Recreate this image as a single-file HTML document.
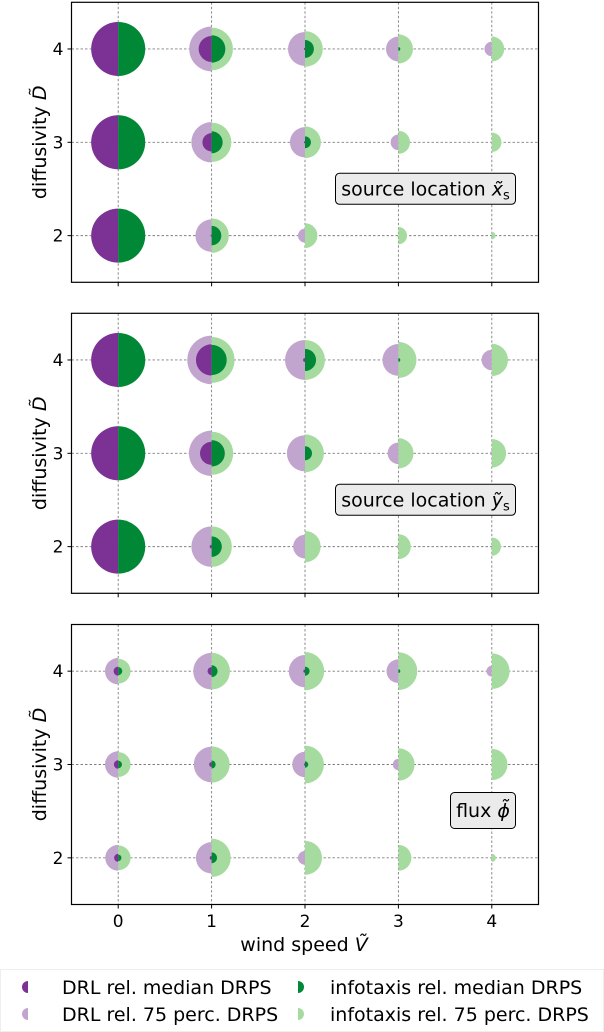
<!DOCTYPE html>
<html><head><meta charset="utf-8"><style>body{margin:0;background:#fff}svg{display:block;font-family:"DejaVu Sans","Liberation Sans",sans-serif}</style></head>
<body>
<svg id="chart" width="604" height="1032" viewBox="0 0 604 1032" xmlns="http://www.w3.org/2000/svg"></svg>
<script>
const windSpeeds=[0,1,2,3,4];
const diffusivities=[4,3,2];
// values: relative DRPS (percent of max), rows D=4,3,2, cols V=0..4
const p1DrlMed=[[100,48,4,0,0],[100,34,4,0,0],[100,4,0,0,0]];
const p1Drl75=[[100,83,63,46,27],[100,75,56,29,4],[100,60,26,0,0]];
const p1InfMed=[[100,51,33,7,0],[100,41,22,0,0],[100,36,0,0,0]];
const p1Inf75=[[100,79,66,54,46],[100,73,59,43,36],[100,64,46,32,14]];
const p2DrlMed=[[100,58,7,0,0],[100,43,0,0,0],[100,7,0,0,0]];
const p2Drl75=[[100,90,74,59,38],[100,84,67,40,7],[100,75,44,6,0]];
const p2InfMed=[[100,56,41,7,0],[100,49,26,0,0],[100,38,0,0,0]];
const p2Inf75=[[100,85,74,67,60],[100,80,70,56,53],[100,75,58,46,34]];
const p3DrlMed=[[17,15,6,0,0],[16,9,4,0,0],[15,7,0,0,0]];
const p3Drl75=[[49,68,60,44,20],[49,66,47,21,4],[48,58,26,4,0]];
const p3InfMed=[[15,22,17,7,0],[14,15,12,0,0],[12,20,0,0,0]];
const p3Inf75=[[46,68,71,70,66],[46,67,70,60,58],[46,71,63,48,15]];
const xTicks=["0","1","2","3","4"];
const yTicks=["2","3","4"];

const NS="http://www.w3.org/2000/svg";
const svg=document.getElementById('chart');
const L=71.5,R=538.5,H=280;
const tops=[2.3,313.3,624.5];
const xs=v=>L+(v+0.5)*(R-L)/5;
const ysF=top=>d=>top+(4.5-d)*H/3;
const rs=v=>v*0.27;
function mk(tag,attrs,parent){const e=document.createElementNS(NS,tag);for(const k in attrs)e.setAttribute(k,attrs[k]);(parent||svg).appendChild(e);return e;}
function half(cx,cy,r,left,fill,g){
  if(r<=0)return;
  const p=mk('path',{d:`M${cx},${cy-r} A${r},${r} 0 0 ${left?0:1} ${cx},${cy+r} Z`,fill:fill},g);
  
  
}
const sets=[[p1Drl75,p1DrlMed,p1Inf75,p1InfMed],[p2Drl75,p2DrlMed,p2Inf75,p2InfMed],[p3Drl75,p3DrlMed,p3Inf75,p3InfMed]];
const C={d75:'#c2a5cf',dm:'#7b3294',i75:'#a6dba0',im:'#008837'};
sets.forEach((s,pi)=>{
  const top=tops[pi],ys=ysF(top);
  const g=mk('g',{});
  
  
  windSpeeds.forEach(v=>{const l=mk('line',{x1:xs(v),x2:xs(v),y1:top,y2:top+H,stroke:'#808080','stroke-width':0.9,'stroke-dasharray':'2.5,2'},g);});
  diffusivities.forEach(d=>{const l=mk('line',{x1:L,x2:R,y1:ys(d),y2:ys(d),stroke:'#808080','stroke-width':0.9,'stroke-dasharray':'2.5,2'},g);});
  diffusivities.forEach((d,ri)=>windSpeeds.forEach((v,ci)=>{
    const cx=xs(v),cy=ys(d);
    half(cx,cy,rs(s[0][ri][ci]),true,C.d75,g);
    half(cx,cy,rs(s[2][ri][ci]),false,C.i75,g);
    half(cx,cy,rs(s[1][ri][ci]),true,C.dm,g);
    half(cx,cy,rs(s[3][ri][ci]),false,C.im,g);
  }));
  const fr=mk('rect',{x:L,y:top,width:R-L,height:H,fill:'none',stroke:'#000','stroke-width':1.2},g);
  
  windSpeeds.forEach(v=>{mk('line',{x1:xs(v),x2:xs(v),y1:top+H,y2:top+H+4,stroke:'#000','stroke-width':1},g);});
  yTicks.forEach(t=>{const y=ys(+t);mk('line',{x1:L-4,x2:L,y1:y,y2:y,stroke:'#000','stroke-width':1},g);
    const tx=mk('text',{x:L-8,y:y+6,'text-anchor':'end','font-size':17},g);tx.textContent=t;
    });
  const yt=mk('text',{transform:`translate(46,${top+H/2}) rotate(-90)`,'text-anchor':'middle','font-size':19},g);
  yt.innerHTML='diffusivity <tspan font-style="italic">D̃</tspan>';
  
  const bx=pi<2?335.5:450.5, bw=pi<2?180:65, by=pi<2?top+171:top+168, bh=pi<2?31:36;
  const br=mk('rect',{x:bx,y:by,width:bw,height:bh,rx:4,fill:'#ebebeb',stroke:'#000','stroke-width':1},g);
  
  const lt=mk('text',{x:bx+bw/2,y:by+bh/2+6.5,'text-anchor':'middle','font-size':19},g);
  if(pi===0)lt.innerHTML='source location <tspan font-style="italic">x̃</tspan><tspan font-size="13" dy="4">s</tspan>';
  else if(pi===1)lt.innerHTML='source location <tspan font-style="italic">ỹ</tspan><tspan font-size="13" dy="4">s</tspan>';
  else lt.innerHTML='flux <tspan font-style="italic">ϕ̃</tspan>';
  
});
xTicks.forEach((t,i)=>{const tx=mk('text',{x:xs(windSpeeds[i]),y:927,'text-anchor':'middle','font-size':17});tx.textContent=t;
  });
const xt=mk('text',{x:304,y:951,'text-anchor':'middle','font-size':19});
xt.innerHTML='wind speed <tspan font-style="italic">Ṽ</tspan>';

const lg=mk('g',{});

mk('rect',{x:0.5,y:969.5,width:603,height:62,fill:'#fff',stroke:'#ddd','stroke-width':1,'stroke-dasharray':'1,1'},lg);
const legItems=[["DRL rel. median DRPS",C.dm,true,25,987,62],["DRL rel. 75 perc. DRPS",C.d75,true,25,1014,62],["infotaxis rel. median DRPS",C.im,false,298,987,330],["infotaxis rel. 75 perc. DRPS",C.i75,false,298,1014,330]];
legItems.forEach(it=>{
  const e=mk('g',{},lg);
  
  const cx=it[2]?it[3]+3:it[3],r=6;
  mk('path',{d:`M${cx},${it[4]-r} A${r},${r} 0 0 ${it[2]?0:1} ${cx},${it[4]+r} Z`,fill:it[1]},e);
  const t=mk('text',{x:it[5],y:it[4]+7,'font-size':19},e);t.textContent=it[0];
});
</script>
</body></html>
